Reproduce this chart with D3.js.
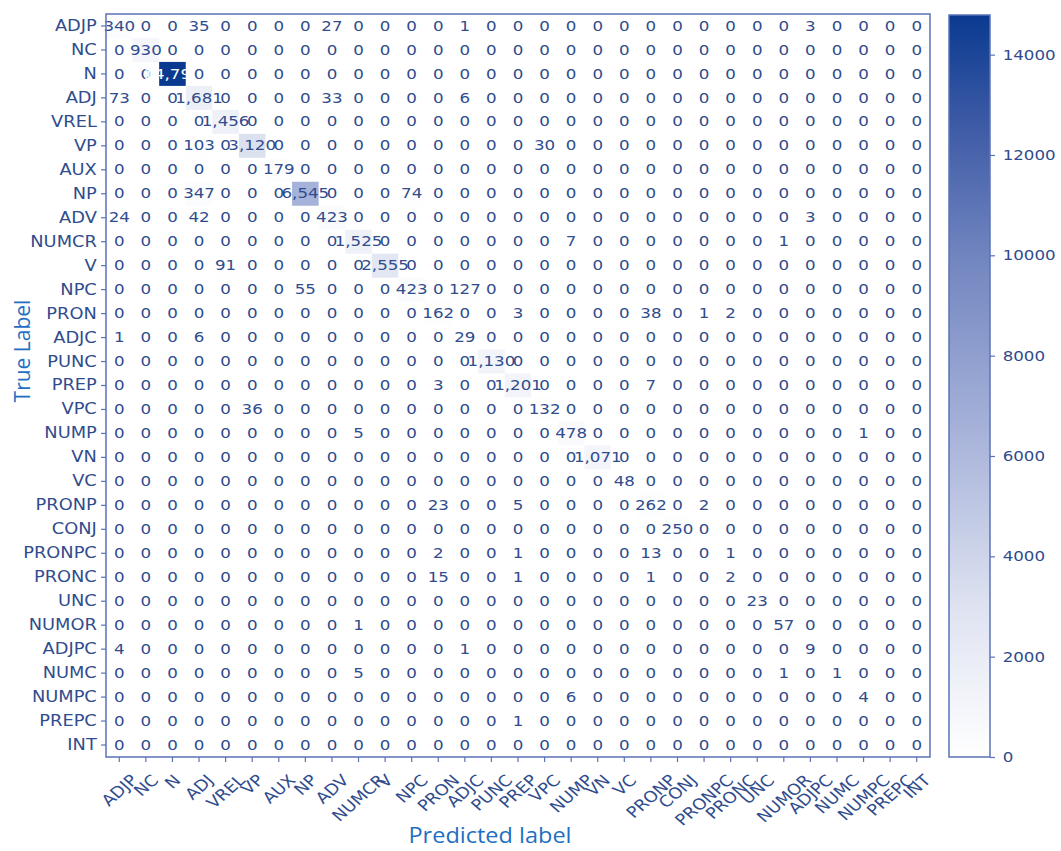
<!DOCTYPE html>
<html>
<head>
<meta charset="utf-8">
<script src="https://cdn.jsdelivr.net/npm/d3@7/dist/d3.min.js"></script>
<style>
  html, body { margin: 0; padding: 0; background: #ffffff; }
  svg { display: block; }
</style>
</head>
<body>
<svg id="chart" width="1061" height="851"></svg>
<script>
// Part-of-speech tags (rows = true tag, columns = predicted tag)
const labels = ["ADJP","NC","N","ADJ","VREL","VP","AUX","NP","ADV","NUMCR","V","NPC","PRON","ADJC","PUNC","PREP","VPC","NUMP","VN","VC","PRONP","CONJ","PRONPC","PRONC","UNC","NUMOR","ADJPC","NUMC","NUMPC","PREPC","INT"];

// Confusion counts, one array per true tag
const counts = [
  [340,0,0,35,0, 0,0,0,27,0, 0,0,0,1,0, 0,0,0,0,0, 0,0,0,0,0, 0,3,0,0,0, 0],
  [0,930,0,0,0, 0,0,0,0,0, 0,0,0,0,0, 0,0,0,0,0, 0,0,0,0,0, 0,0,0,0,0, 0],
  [0,0,14790,0,0, 0,0,0,0,0, 0,0,0,0,0, 0,0,0,0,0, 0,0,0,0,0, 0,0,0,0,0, 0],
  [73,0,0,1681,0, 0,0,0,33,0, 0,0,0,6,0, 0,0,0,0,0, 0,0,0,0,0, 0,0,0,0,0, 0],
  [0,0,0,0,1456, 0,0,0,0,0, 0,0,0,0,0, 0,0,0,0,0, 0,0,0,0,0, 0,0,0,0,0, 0],
  [0,0,0,103,0, 3120,0,0,0,0, 0,0,0,0,0, 0,30,0,0,0, 0,0,0,0,0, 0,0,0,0,0, 0],
  [0,0,0,0,0, 0,179,0,0,0, 0,0,0,0,0, 0,0,0,0,0, 0,0,0,0,0, 0,0,0,0,0, 0],
  [0,0,0,347,0, 0,0,6545,0,0, 0,74,0,0,0, 0,0,0,0,0, 0,0,0,0,0, 0,0,0,0,0, 0],
  [24,0,0,42,0, 0,0,0,423,0, 0,0,0,0,0, 0,0,0,0,0, 0,0,0,0,0, 0,3,0,0,0, 0],
  [0,0,0,0,0, 0,0,0,0,1525, 0,0,0,0,0, 0,0,7,0,0, 0,0,0,0,0, 1,0,0,0,0, 0],
  [0,0,0,0,91, 0,0,0,0,0, 2555,0,0,0,0, 0,0,0,0,0, 0,0,0,0,0, 0,0,0,0,0, 0],
  [0,0,0,0,0, 0,0,55,0,0, 0,423,0,127,0, 0,0,0,0,0, 0,0,0,0,0, 0,0,0,0,0, 0],
  [0,0,0,0,0, 0,0,0,0,0, 0,0,162,0,0, 3,0,0,0,0, 38,0,1,2,0, 0,0,0,0,0, 0],
  [1,0,0,6,0, 0,0,0,0,0, 0,0,0,29,0, 0,0,0,0,0, 0,0,0,0,0, 0,0,0,0,0, 0],
  [0,0,0,0,0, 0,0,0,0,0, 0,0,0,0,1130, 0,0,0,0,0, 0,0,0,0,0, 0,0,0,0,0, 0],
  [0,0,0,0,0, 0,0,0,0,0, 0,0,3,0,0, 1201,0,0,0,0, 7,0,0,0,0, 0,0,0,0,0, 0],
  [0,0,0,0,0, 36,0,0,0,0, 0,0,0,0,0, 0,132,0,0,0, 0,0,0,0,0, 0,0,0,0,0, 0],
  [0,0,0,0,0, 0,0,0,0,5, 0,0,0,0,0, 0,0,478,0,0, 0,0,0,0,0, 0,0,0,1,0, 0],
  [0,0,0,0,0, 0,0,0,0,0, 0,0,0,0,0, 0,0,0,1071,0, 0,0,0,0,0, 0,0,0,0,0, 0],
  [0,0,0,0,0, 0,0,0,0,0, 0,0,0,0,0, 0,0,0,0,48, 0,0,0,0,0, 0,0,0,0,0, 0],
  [0,0,0,0,0, 0,0,0,0,0, 0,0,23,0,0, 5,0,0,0,0, 262,0,2,0,0, 0,0,0,0,0, 0],
  [0,0,0,0,0, 0,0,0,0,0, 0,0,0,0,0, 0,0,0,0,0, 0,250,0,0,0, 0,0,0,0,0, 0],
  [0,0,0,0,0, 0,0,0,0,0, 0,0,2,0,0, 1,0,0,0,0, 13,0,0,1,0, 0,0,0,0,0, 0],
  [0,0,0,0,0, 0,0,0,0,0, 0,0,15,0,0, 1,0,0,0,0, 1,0,0,2,0, 0,0,0,0,0, 0],
  [0,0,0,0,0, 0,0,0,0,0, 0,0,0,0,0, 0,0,0,0,0, 0,0,0,0,23, 0,0,0,0,0, 0],
  [0,0,0,0,0, 0,0,0,0,1, 0,0,0,0,0, 0,0,0,0,0, 0,0,0,0,0, 57,0,0,0,0, 0],
  [4,0,0,0,0, 0,0,0,0,0, 0,0,0,1,0, 0,0,0,0,0, 0,0,0,0,0, 0,9,0,0,0, 0],
  [0,0,0,0,0, 0,0,0,0,5, 0,0,0,0,0, 0,0,0,0,0, 0,0,0,0,0, 1,0,1,0,0, 0],
  [0,0,0,0,0, 0,0,0,0,0, 0,0,0,0,0, 0,0,6,0,0, 0,0,0,0,0, 0,0,0,4,0, 0],
  [0,0,0,0,0, 0,0,0,0,0, 0,0,0,0,0, 1,0,0,0,0, 0,0,0,0,0, 0,0,0,0,0, 0],
  [0,0,0,0,0, 0,0,0,0,0, 0,0,0,0,0, 0,0,0,0,0, 0,0,0,0,0, 0,0,0,0,0, 0]
];

// Colour bar tick values
const colorTicks = [0, 2000, 4000, 6000, 8000, 10000, 12000, 14000];

const svg = d3.select("#chart");
const FONT = "'DejaVu Sans', sans-serif";
const INK = "#304c8d";
const FRAME = "#5b72b6";
const STRETCH = "scale(1.15,1)";

const plot = { left: 106, right: 930, top: 14, bottom: 757 };
const bar = { left: 949, right: 990, top: 15, bottom: 757 };

const x = d3.scaleBand().domain(labels).range([plot.left, plot.right]);
const y = d3.scaleBand().domain(labels).range([plot.top, plot.bottom]);

const vmax = d3.max(counts.flat());
const vmin = d3.min(counts.flat());
const ramp = d3.scaleLinear()
  .domain([0, 0.2, 0.44, 0.68, 0.85, 1])
  .range(["#ffffff", "#dfe3f1", "#a6b2d9", "#7084bf", "#3e5ba6", "#0a3a90"])
  .interpolate(d3.interpolateRgb);
const color = v => ramp(v / vmax);

// Flatten into cells
const cells = [];
counts.forEach((row, i) => row.forEach((v, j) => cells.push({ t: labels[i], p: labels[j], v })));

// Heatmap cells
svg.append("g").selectAll("rect").data(cells).join("rect")
  .attr("x", d => x(d.p))
  .attr("y", d => y(d.t))
  .attr("width", x.bandwidth() + 0.5)
  .attr("height", y.bandwidth() + 0.5)
  .attr("fill", d => color(d.v));

// Cell counts (white on dark cells, as in a confusion matrix display)
const thresh = (vmax + vmin) / 2;
const fmt = d3.format(",");
svg.append("g").selectAll("text").data(cells).join("text")
  .attr("transform", d => `translate(${x(d.p) + x.bandwidth() / 2},${y(d.t) + y.bandwidth() / 2}) ${STRETCH}`)
  .attr("text-anchor", "middle")
  .attr("dominant-baseline", "central")
  .attr("font-family", FONT)
  .attr("font-size", 14.5)
  .attr("fill", d => d.v >= thresh ? "#ffffff" : INK)
  .text(d => fmt(d.v));

// Frame
svg.append("rect")
  .attr("x", plot.left).attr("y", plot.top)
  .attr("width", plot.right - plot.left).attr("height", plot.bottom - plot.top)
  .attr("fill", "none").attr("stroke", FRAME).attr("stroke-width", 1.5);

// Y axis
const gy = svg.append("g")
  .attr("transform", `translate(${plot.left},0)`)
  .call(d3.axisLeft(y).tickSize(5).tickPadding(3));
gy.select(".domain").remove();
gy.selectAll(".tick line").attr("stroke", FRAME).attr("stroke-width", 1.2);
gy.selectAll(".tick text")
  .attr("font-family", FONT).attr("font-size", 15.5).attr("fill", INK)
  .attr("transform", STRETCH);

// X axis with 45-degree labels centred under each tick
const gx = svg.append("g")
  .attr("transform", `translate(0,${plot.bottom})`)
  .call(d3.axisBottom(x).tickSize(5).tickPadding(3));
gx.select(".domain").remove();
gx.selectAll(".tick line").attr("stroke", FRAME).attr("stroke-width", 1.2);
gx.selectAll(".tick text")
  .attr("font-family", FONT).attr("font-size", 15.5).attr("fill", INK)
  .attr("x", 0).attr("y", 0).attr("dy", null)
  .attr("text-anchor", "middle")
  .attr("dominant-baseline", "central")
  .each(function () {
    const L = this.getComputedTextLength();
    const h = 15;
    const half = (L + h) * 0.7071 / 2;
    d3.select(this).attr("transform", `translate(0,${15 + half}) ${STRETCH} rotate(-45)`);
  });

// Colour bar
const defs = svg.append("defs");
const grad = defs.append("linearGradient")
  .attr("id", "cbar").attr("x1", 0).attr("y1", 1).attr("x2", 0).attr("y2", 0);
d3.range(0, 1.0001, 0.05).forEach(t => {
  grad.append("stop").attr("offset", t).attr("stop-color", ramp(t));
});
const cy = d3.scaleLinear().domain([0, vmax]).range([bar.bottom, bar.top]);
svg.append("rect")
  .attr("x", bar.left).attr("y", bar.top)
  .attr("width", bar.right - bar.left).attr("height", bar.bottom - bar.top)
  .attr("fill", "url(#cbar)")
  .attr("stroke", FRAME).attr("stroke-width", 1.5);
const gc = svg.append("g")
  .attr("transform", `translate(${bar.right},0)`)
  .call(d3.axisRight(cy).tickValues(colorTicks).tickFormat(d3.format("d")).tickSize(5).tickPadding(6));
gc.select(".domain").remove();
gc.selectAll(".tick line").attr("stroke", FRAME).attr("stroke-width", 1.2);
gc.selectAll(".tick text")
  .attr("font-family", FONT).attr("font-size", 14.5).attr("fill", INK)
  .attr("transform", STRETCH);

// Axis titles
svg.append("text")
  .attr("transform", `translate(490,843) scale(1.12,1)`)
  .attr("text-anchor", "middle")
  .attr("font-family", "'Open Sans', sans-serif")
  .attr("font-size", 21)
  .attr("fill", "#1f6fc2")
  .text("Predicted label");

svg.append("text")
  .attr("transform", `translate(30,351) rotate(-90)`)
  .attr("text-anchor", "middle")
  .attr("font-family", "'Open Sans', sans-serif")
  .attr("font-size", 21)
  .attr("fill", "#1f6fc2")
  .text("True Label");
</script>
</body>
</html>
